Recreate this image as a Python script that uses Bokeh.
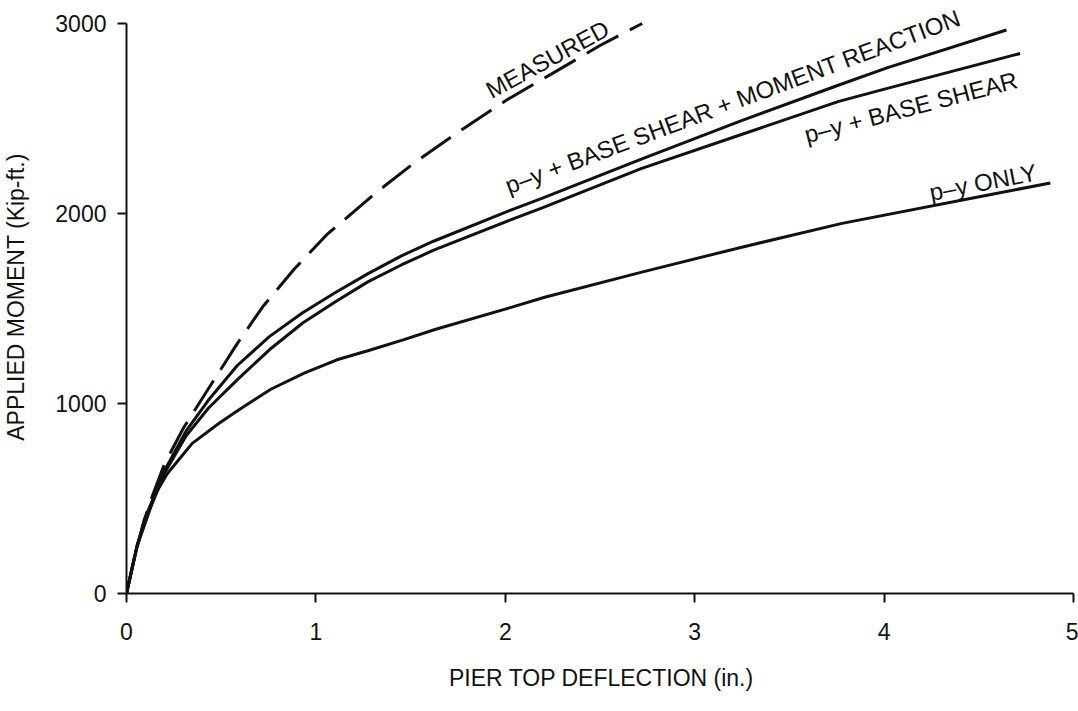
from bokeh.plotting import figure
from bokeh.models import Range1d, FixedTicker, Label
from bokeh.embed import file_html
from bokeh.resources import INLINE

# ---- data ----
x_ticks = [0, 1, 2, 3, 4, 5]
y_ticks = [0, 1000, 2000, 3000]

measured_x = [0, 0.05, 0.12, 0.2, 0.3, 0.445, 0.582, 0.719, 0.887, 1.056, 1.324,
              1.521, 1.764, 2.007, 2.245, 2.5, 2.723]
measured_y = [0, 230, 470, 680, 870, 1097, 1311, 1509, 1709, 1887, 2115,
              2268, 2437, 2597, 2735, 2884, 3000]

mr_x = [0, 0.056, 0.13, 0.204, 0.315, 0.432, 0.585, 0.754, 0.930, 1.101, 1.273,
        1.449, 1.621, 2.022, 2.193, 2.715, 3.237, 3.758, 4.019, 4.646]
mr_y = [0, 254, 467, 653, 856, 1017, 1200, 1352, 1478, 1583, 1682,
        1776, 1854, 2015, 2080, 2285, 2485, 2675, 2768, 2966]

bs_x = [0, 0.056, 0.13, 0.204, 0.315, 0.432, 0.587, 0.756, 0.932, 1.103, 1.274,
        1.451, 1.622, 2.024, 2.195, 2.717, 3.239, 3.761, 4.022, 4.718]
bs_y = [0, 250, 460, 640, 830, 975, 1127, 1284, 1425, 1535, 1640,
        1729, 1807, 1965, 2030, 2236, 2413, 2590, 2660, 2842]

py_x = [0, 0.05, 0.094, 0.15, 0.215, 0.347, 0.487, 0.59, 0.762, 0.938, 1.111,
        1.283, 1.461, 1.633, 2.035, 2.208, 2.731, 3.254, 3.778, 4.564, 4.878]
py_y = [0, 220, 390, 520, 630, 790, 895, 965, 1075, 1160, 1230,
        1280, 1335, 1391, 1507, 1559, 1694, 1824, 1948, 2100, 2161]

labels = ["MEASURED",
          "p\u2013y + BASE SHEAR + MOMENT REACTION",
          "p\u2013y + BASE SHEAR",
          "p\u2013y ONLY"]
label_x = [1.907, 2.004, 3.581, 4.24]
label_y = [2641, 2143, 2413, 2110]
label_angle = [28.5, 20.5, 14.7, 11]

FONT = "Liberation Sans"
INK = "#111111"

p = figure(width=1078, height=711,
           x_range=Range1d(0, 5.016), y_range=Range1d(0, 3121),
           output_backend="svg", toolbar_location=None,
           min_border_left=123, min_border_right=2,
           min_border_top=0, min_border_bottom=118)
p.outline_line_color = None
p.grid.visible = False
p.background_fill_color = "white"
p.border_fill_color = "white"

p.line(measured_x, measured_y, line_width=3, color=INK, line_dash="36 13")
p.line(mr_x, mr_y, line_width=3, color=INK)
p.line(bs_x, bs_y, line_width=3, color=INK)
p.line(py_x, py_y, line_width=3, color=INK)

for t, lx, ly, la in zip(labels, label_x, label_y, label_angle):
    p.add_layout(Label(x=lx, y=ly, text=t, angle=la, angle_units="deg",
                       text_font=FONT, text_font_size="24px", text_color=INK,
                       text_align="left", text_baseline="alphabetic"))

for ax in (p.xaxis, p.yaxis):
    ax.axis_line_width = 2
    ax.axis_line_color = INK
    ax.major_tick_line_width = 2
    ax.major_tick_line_color = INK
    ax.minor_tick_line_color = None
    ax.major_tick_in = 0
    ax.major_tick_out = 9
    ax.major_label_text_font = FONT
    ax.major_label_text_font_size = "23px"
    ax.major_label_text_color = INK
    ax.axis_label_text_font = FONT
    ax.axis_label_text_font_size = "23px"
    ax.axis_label_text_font_style = "normal"
    ax.axis_label_text_color = INK

p.xaxis.ticker = FixedTicker(ticks=x_ticks)
p.yaxis.ticker = FixedTicker(ticks=y_ticks)
p.xaxis.bounds = (0, 5)
p.yaxis.bounds = (0, 3000)
p.xaxis.major_label_standoff = 20
p.yaxis.major_label_standoff = 11
p.xaxis.axis_label = "PIER TOP DEFLECTION (in.)"
p.yaxis.axis_label = "APPLIED MOMENT (Kip-ft.)"
p.xaxis.axis_label_standoff = 22
p.yaxis.axis_label_standoff = 23

open("out.html", "w").write(file_html(p, INLINE))
